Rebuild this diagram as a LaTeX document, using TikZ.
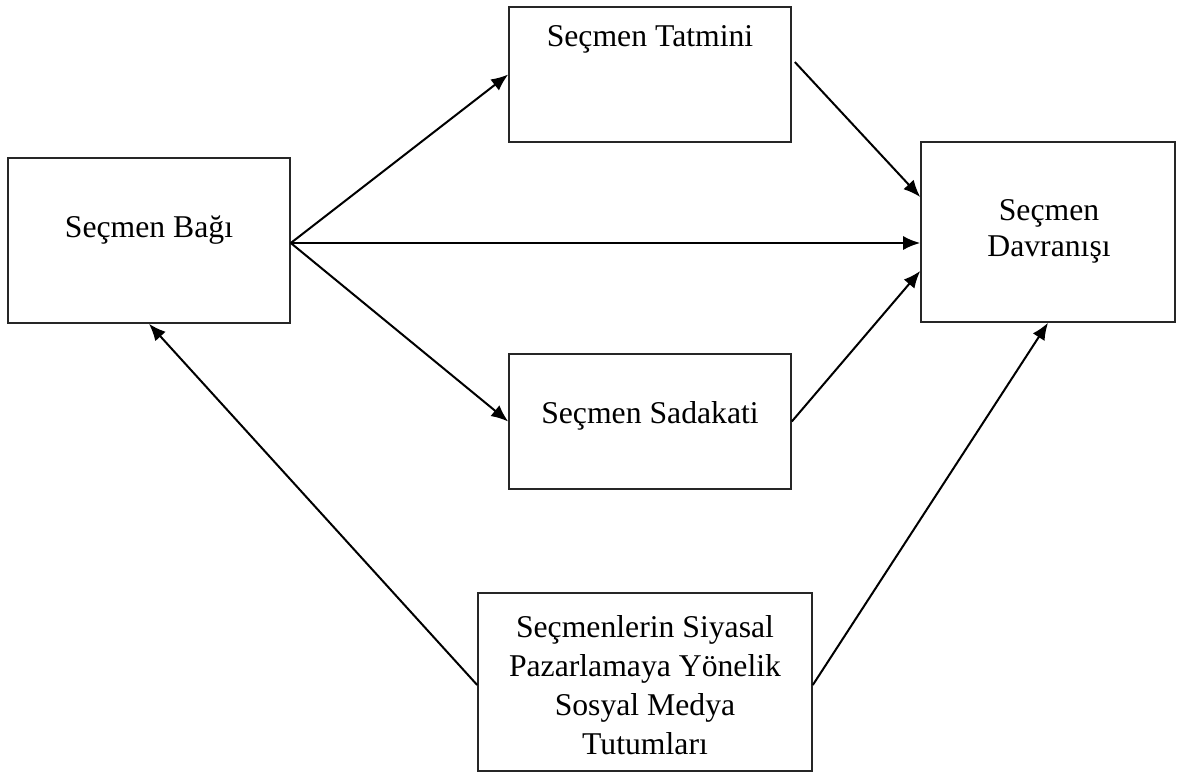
\documentclass[tikz,border=0pt]{standalone}
\usepackage{fontspec}
\setmainfont{Liberation Serif}
\usetikzlibrary{arrows.meta}
\begin{document}
\begin{tikzpicture}[x=1pt,y=-1pt,
  box/.style={draw=black!85,fill=white,line width=1.6pt,rectangle,inner sep=0pt},
  lbl/.style={anchor=base,inner sep=0pt,font=\fontsize{31.7}{38}\selectfont},
  conn/.style={line width=2pt,-{Latex[length=17pt,width=14pt]}},
  ]
\fill[white] (0,0) rectangle (1177,774);
\useasboundingbox (0,0) rectangle (1177,774);
% boxes
\node[box,minimum width=282pt,minimum height=165pt] (bag) at (149,240.5) {};
\node[box,minimum width=282pt,minimum height=135pt] (tat) at (650,74.5) {};
\node[box,minimum width=282pt,minimum height=135pt] (sad) at (650,421.5) {};
\node[box,minimum width=254pt,minimum height=180pt] (dav) at (1048,232) {};
\node[box,minimum width=334pt,minimum height=178pt] (tut) at (645,682) {};
% texts
\node[lbl] (tbag) at (149,237) {Seçmen Bağı};
\node[lbl] (ttat) at (650,46) {Seçmen Tatmini};
\node[lbl] (tsad) at (650,423) {Seçmen Sadakati};
\node[lbl] (tdav1) at (1049,220) {Seçmen};
\node[lbl] (tdav2) at (1049,256) {Davranışı};
\node[lbl] (ttut1) at (645,637) {Seçmenlerin Siyasal};
\node[lbl] (ttut2) at (645,676) {Pazarlamaya Yönelik};
\node[lbl] (ttut3) at (645,715) {Sosyal Medya};
\node[lbl] (ttut4) at (645,754) {Tutumları};
% connectors
\draw[conn] ([yshift=-2.5pt]bag.east) -- (tat.west);
\draw[conn] ([yshift=-2.5pt]bag.east) -- ([yshift=-11pt]dav.west);
\draw[conn] ([yshift=-2.5pt]bag.east) -- (sad.west);
\draw[conn] ([shift={(3pt,12.5pt)}]tat.east) -- ([yshift=35pt]dav.west);
\draw[conn] (sad.east) -- ([yshift=-39pt]dav.west);
\draw[conn] ([yshift=-3pt]tut.west) -- (bag.south);
\draw[conn] ([yshift=-3pt]tut.east) -- (dav.south);
\end{tikzpicture}
\end{document}
